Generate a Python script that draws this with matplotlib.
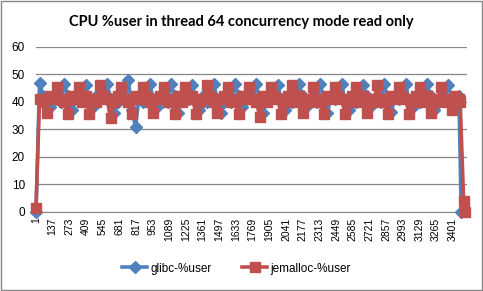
import numpy as np
import matplotlib
matplotlib.use("Agg")
import matplotlib.pyplot as plt
from matplotlib.patches import Rectangle

# sampled samples, one every 29 rows of the original sheet
sample_step = 29
glibc_user = [
    0, 47, 42, 41, 38, 41,
    41, 40, 46.5, 42, 37, 41,
    42, 41, 46, 40, 38, 42,
    41, 42, 46.5, 41, 36, 40,
    42, 41, 48, 37, 31, 42,
    40, 42, 46.5, 41, 38, 41,
    41, 40, 46.5, 42, 36, 41,
    42, 41, 46, 40, 37, 42,
    40, 42, 46.5, 41, 36, 40,
    41, 40, 46.5, 42, 38, 41,
    42, 41, 46.5, 40, 36, 42,
    41, 42, 46, 41, 37, 40,
    40, 41, 46.5, 42, 38, 41,
    42, 40, 46.5, 41, 36, 42,
    41, 42, 46.5, 40, 37, 41,
    40, 41, 46, 42, 38, 40,
    42, 40, 46.5, 41, 36.5, 42,
    41, 42, 46.5, 40, 38, 41,
    40, 41, 46.5, 42, 37, 40,
    42, 41, 46, 41, 40, 42,
]
jemalloc_user = [
    1.5, 41, 40, 36, 42, 41,
    45.5, 41, 40, 35.5, 42, 41,
    45.5, 40, 42, 35.5, 41, 40,
    46, 42, 41, 34, 40, 42,
    45.5, 41, 40, 35.5, 42, 41,
    45.5, 42, 40, 36, 41, 42,
    45.5, 40, 41, 35.5, 42, 40,
    45.5, 41, 42, 35.5, 40, 41,
    46, 42, 40, 36, 41, 42,
    45.5, 40, 41, 35.5, 42, 41,
    45.5, 41, 40, 34.5, 42, 40,
    45.5, 42, 41, 35.5, 40, 42,
    46, 40, 42, 36, 41, 40,
    45.5, 41, 40, 35.5, 42, 41,
    45.5, 42, 41, 35.5, 40, 42,
    45.5, 40, 42, 36, 41, 40,
    46, 41, 40, 35.5, 42, 41,
    45.5, 42, 41, 35.5, 40, 42,
    45.5, 40, 42, 36, 41, 40,
    45.5, 41, 40, 37, 42, 41,
]
# the final rows where the run stops
glibc_tail_x = [3470]
glibc_tail = [0]
jemalloc_tail_x = [3462, 3490, 3502]
jemalloc_tail = [40, 4, 0]

tick_labels = [1 + 136 * k for k in range(26)]

x_main = 1 + sample_step * np.arange(len(glibc_user))
gx = np.concatenate([x_main, glibc_tail_x])
gy = np.concatenate([glibc_user, glibc_tail])
jx = np.concatenate([x_main, jemalloc_tail_x])
jy = np.concatenate([jemalloc_user, jemalloc_tail])

blue = "#4F81BD"
red = "#C0504D"

fig = plt.figure(figsize=(4.83, 2.91), dpi=100)
fig.patches.append(Rectangle((0.002, 0.003), 0.995, 0.994, transform=fig.transFigure,
                             fill=False, edgecolor="#868686", linewidth=1))
ax = fig.add_axes([0.0745, 0.2715, 0.892, 0.567])

ax.plot(gx, gy, color=blue, lw=2.6, marker="D", ms=6.5, mec=blue, mfc=blue,
        label="glibc-%user", clip_on=False, zorder=3)
ax.plot(jx, jy, color=red, lw=2.6, marker="s", ms=7, mec=red, mfc=red,
        label="jemalloc-%user", clip_on=False, zorder=4)

ax.set_xlim(1, 3516)
ax.set_ylim(0, 60)
ax.set_yticks(range(0, 61, 10))
ax.set_xticks(tick_labels)
ax.set_xticklabels([str(t) for t in tick_labels], rotation=90, fontsize=7.5,
                   family="Liberation Sans")
for lab in ax.get_yticklabels():
    lab.set_fontsize(8.5)
    lab.set_family("Liberation Sans")
ax.tick_params(axis="both", length=0, pad=4)
ax.tick_params(axis="y", pad=8)
ax.grid(axis="y", color="#878787", lw=0.9)
ax.set_axisbelow(True)
for s in ["top", "right", "left"]:
    ax.spines[s].set_visible(False)
ax.spines["bottom"].set_color("#878787")

fig.suptitle("CPU %user in thread 64 concurrency mode read only", fontsize=10.5,
             fontweight="bold", family="Lato", y=0.95, x=0.5)

fig.legend(loc="lower center", ncol=2, frameon=False, bbox_to_anchor=(0.49, 0.02),
           prop={"family": "Liberation Sans", "size": 8.5}, handlelength=2.1,
           columnspacing=2.6, handletextpad=0.3)

fig.savefig("out.png", dpi=100)
